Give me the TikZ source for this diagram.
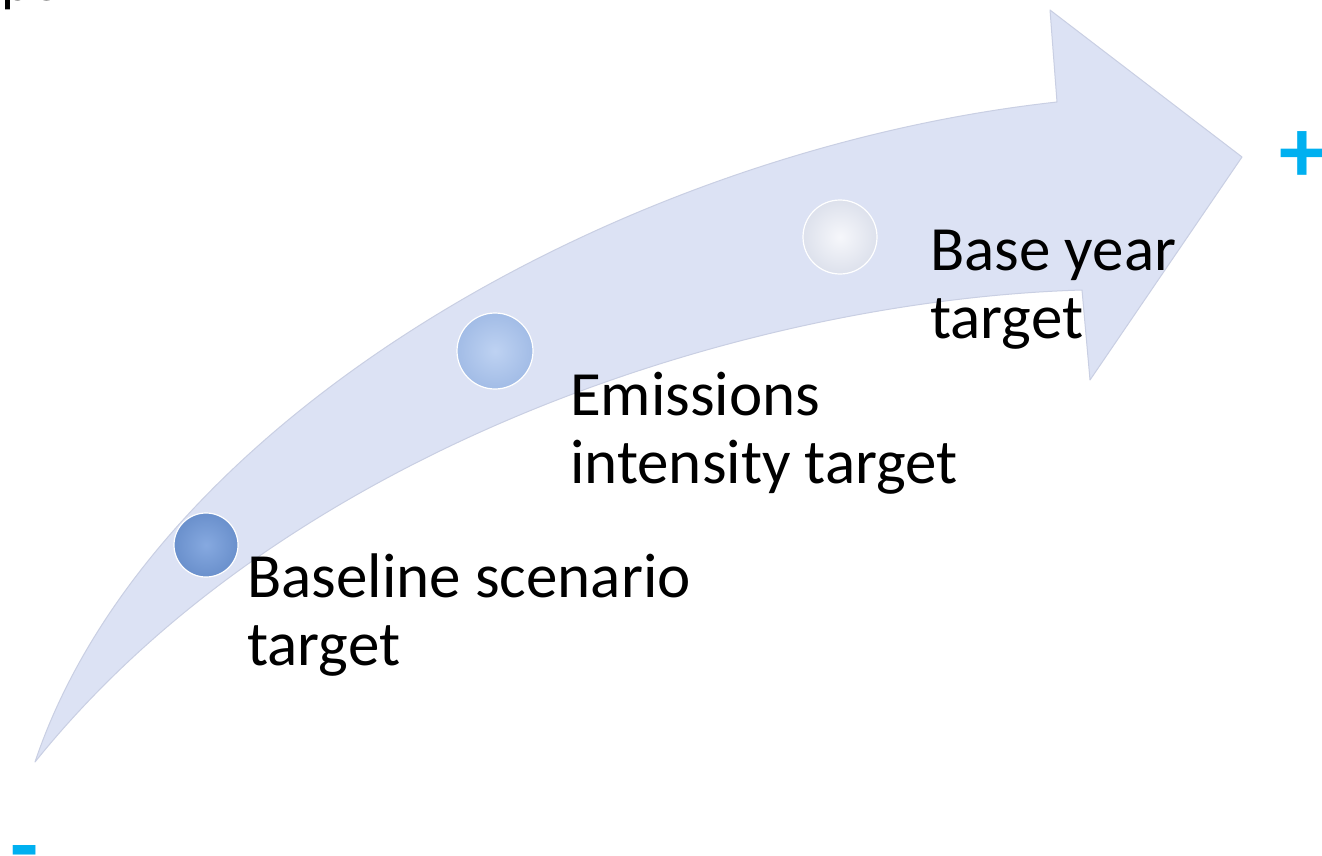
\documentclass[tikz,border=0pt]{standalone}
\usepackage{fontspec}
\setmainfont{Carlito}
\definecolor{bandfill}{HTML}{DCE2F4}
\definecolor{bandedge}{HTML}{C9CFE3}
\definecolor{plusblue}{HTML}{00B0F0}
\definecolor{c1in}{HTML}{86A9E0}
\definecolor{c1out}{HTML}{6A90CC}
\definecolor{c2in}{HTML}{BED2F2}
\definecolor{c2out}{HTML}{A2BCE6}
\definecolor{c3in}{HTML}{F6F7FB}
\definecolor{c3out}{HTML}{DDE1EC}
\begin{document}
\begin{tikzpicture}[x=1pt,y=-1pt,
  bandstyle/.style={fill=bandfill,draw=bandedge,line width=1pt,line join=round},
  dot/.style={circle,inner sep=0pt,draw=white,line width=1.2pt},
  lbl/.style={anchor=base west,inner sep=0pt,font=\fontsize{63}{68}\selectfont,text=black},
  sign/.style={inner sep=0pt,font=\fontsize{92}{100}\selectfont\bfseries,text=plusblue}]
\clip (0,0) rectangle (1322,856);
\fill[white] (0,0) rectangle (1322,856);
% curved arrow
\path[bandstyle] (35,762) .. controls (150,420) and (620,150) .. (1057,102)
  -- (1050,10) -- (1242,157) -- (1090,380) -- (1082,290)
  .. controls (750,300) and (290,445) .. (35,762) -- cycle;
% milestones
\node[dot,minimum size=64pt,inner color=c1in,outer color=c1out] (c1) at (206,545) {};
\node[dot,minimum size=76pt,inner color=c2in,outer color=c2out] (c2) at (495,351) {};
\node[dot,minimum size=74pt,inner color=c3in,outer color=c3out] (c3) at (840,237) {};
% labels
\node[lbl] (t1a) at (247,597) {Baseline scenario};
\node[lbl] (t1b) at (247,665) {target};
\node[lbl] (t2a) at (570,415) {Emissions};
\node[lbl] (t2b) at (570,483) {intensity target};
\node[lbl] (t3a) at (930,270) {Base year};
\node[lbl] (t3b) at (930,338) {target};
% cut-off title fragment
\node[lbl,font=\fontsize{58}{68}\selectfont] (title) at (1,1) {pe};
% signs
\node[sign,anchor=base] (plus) at (1302,182) {+};
\node[sign,anchor=base] (minus) at (25,876) {-};
\end{tikzpicture}
\end{document}
